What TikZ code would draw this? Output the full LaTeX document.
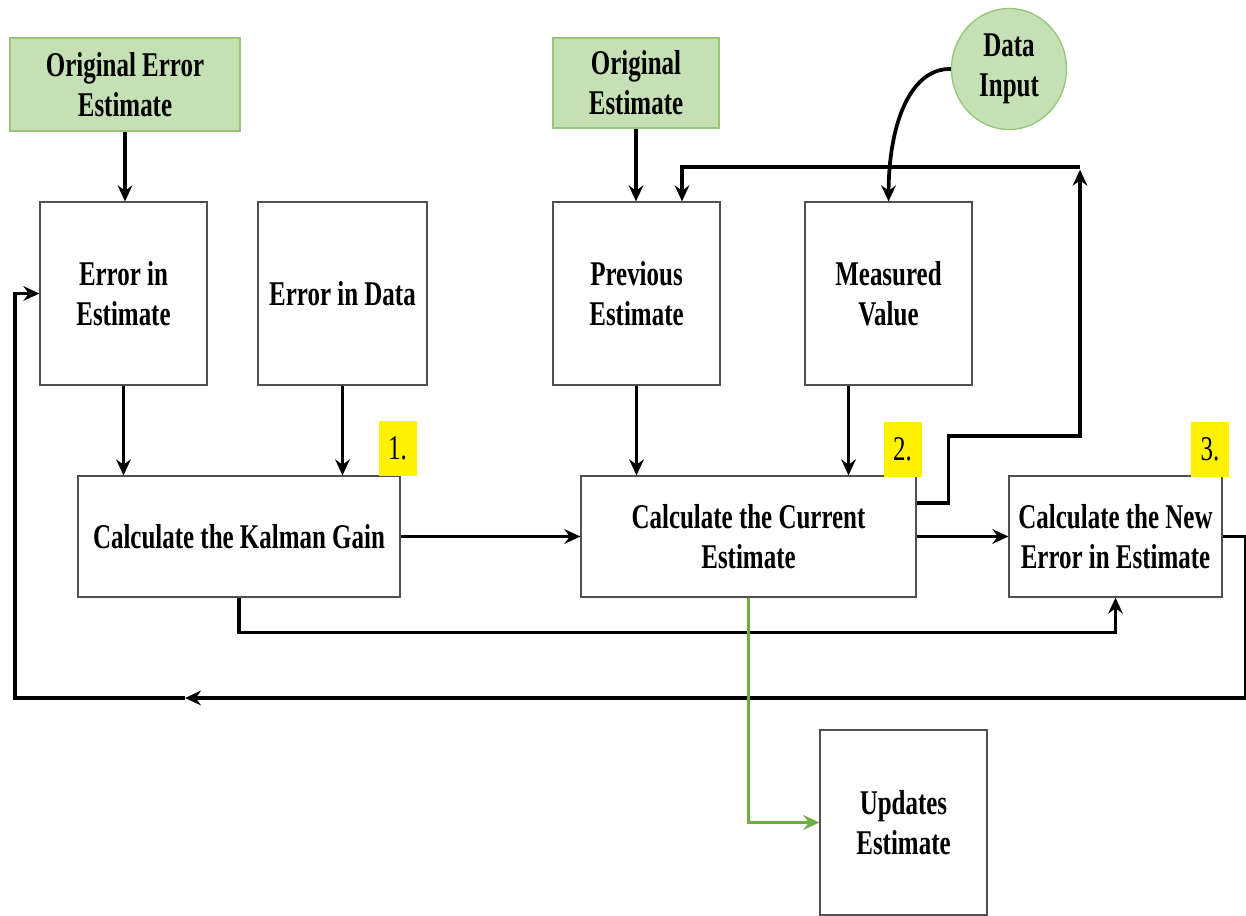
\documentclass[tikz,border=0pt]{standalone}
\usepackage{fontspec}
\setmainfont{Liberation Serif}[FakeStretch=0.72]
\usetikzlibrary{arrows.meta,shapes.geometric}
\definecolor{gfill}{HTML}{C5E0B4}
\definecolor{gline}{HTML}{97C67B}
\definecolor{gconn}{HTML}{70AD47}
\definecolor{boxline}{HTML}{505050}
\begin{document}
\begin{tikzpicture}[x=0.75pt,y=-0.75pt,
  font=\fontsize{26}{30}\selectfont\bfseries,
  box/.style={draw=boxline,line width=0.9pt,fill=white,align=center,inner sep=0pt,
    minimum width=#1*0.75pt},
  hh/.style={minimum height=#1*0.75pt},
  gbox/.style={draw=gline,line width=1pt,fill=gfill,align=center,inner sep=0pt,
    minimum width=#1*0.75pt},
  ylab/.style={fill=yellow,inner sep=0pt,minimum width=38*0.75pt,minimum height=55*0.75pt,
    font=\fontsize{26}{30}\selectfont\mdseries},
  tip/.style={-{Stealth[length=12pt,width=11pt,inset=4pt]}},
  conn/.style={line width=2.8pt,tip},
  line/.style={line width=2.8pt}
]
\useasboundingbox (0,0) rectangle (1246,916);

% green sources
\node[gbox=230,hh=93] (oee) at (125,84.5) {Original Error\\Estimate};
\node[gbox=166,hh=90] (oe) at (636,83) {Original\\Estimate};
\node[ellipse,draw=gline,line width=1pt,fill=gfill,align=center,inner sep=0pt,
  minimum width=115*0.75pt,minimum height=121*0.75pt] (di) at (1009,69) {Data\\Input};

% top row
\node[box=167,hh=183] (eie) at (123.5,293.5) {Error in\\Estimate};
\node[box=169,hh=183] (eid) at (342.5,293.5) {Error in Data};
\node[box=167,hh=183] (pe) at (636.5,293.5) {Previous\\Estimate};
\node[box=167,hh=183] (mv) at (888.5,293.5) {Measured\\Value};

% middle row
\node[box=322,hh=121] (kg) at (239,536.5) {Calculate the Kalman Gain};
\node[box=335,hh=121] (ce) at (748.5,536.5) {Calculate the Current\\Estimate};
\node[box=213,hh=121] (ne) at (1115.5,536.5) {Calculate the New\\Error in Estimate};

% output
\node[box=167,hh=185] (ue) at (903.5,822.5) {Updates\\Estimate};

% yellow labels
\node[ylab] (y1) at (397.5,448.5) {1.};
\node[ylab] (y2) at (902.5,449.5) {2.};
\node[ylab] (y3) at (1210,449.5) {3.};

% vertical connectors
\draw[conn] (oee.south) -- (oee.south |- eie.north);
\draw[conn] (oe.south) -- (oe.south |- pe.north);
\draw[conn] (eie.south) -- (eie.south |- kg.north);
\draw[conn] (eid.south) -- (eid.south |- kg.north);
\draw[conn] (pe.south) -- (pe.south |- ce.north);
\draw[conn] ([xshift=-30pt]mv.south) -- ([xshift=-30pt]mv.south |- ce.north);

% horizontal connectors
\draw[conn] (kg.east) -- (ce.west);
\draw[conn] (ce.east) -- (ne.west);

% Kalman gain to new error
\draw[conn] (kg.south) -- ++(0,35) -| (ne.south);

% new error back to error in estimate
\coordinate (lm) at (185,698);
\coordinate (ll) at (15,698);
\draw[conn] (ne.east) -- ++(23,0) |- (lm);
\draw[conn] (lm) -- (ll) |- (eie.west);

% current estimate feedback to previous estimate
\coordinate (tr) at (1080,167);
\coordinate (tl) at (682,167);
\draw[conn] ([yshift=25pt]ce.east) -- ++(32,0) -- ++(0,-67) -| ([yshift=-2pt]tr);
\draw[conn] (tr) -- (tl) -- (tl |- pe.north);

% data input to measured value
\draw[conn] (di.west) .. controls (912,68) and (889,120) .. (mv.north);

% green output
\draw[line width=2.8pt,gconn,tip] (ce.south) |- (ue.west);
\end{tikzpicture}
\end{document}
